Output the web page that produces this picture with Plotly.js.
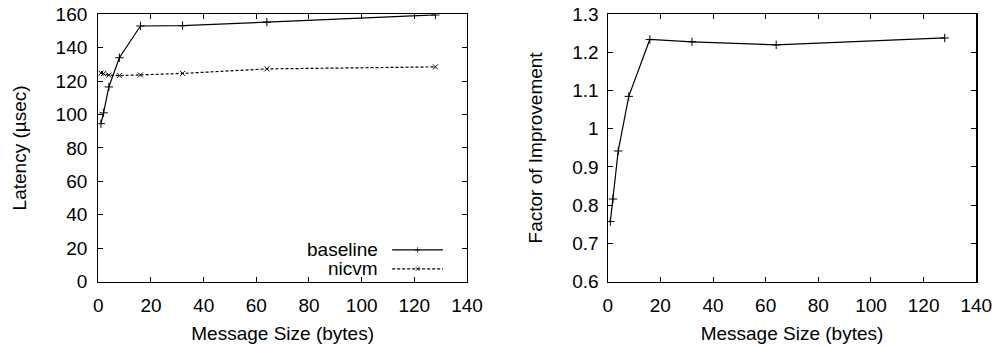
<!DOCTYPE html>
<html>
<head>
<meta charset="utf-8">
<script src="https://cdn.plot.ly/plotly-3.0.1.min.js"></script>
<style>html,body{margin:0;padding:0;background:#fff;}#chart{width:999px;height:347px;}</style>
</head>
<body>
<div id="chart"></div>
<script>
// ---- data ----
const msgSize = [1, 2, 4, 8, 16, 32, 64, 128];
const baseline = [94.5, 101, 116.5, 134, 153, 153.2, 155.3, 159.6];
const nicvm = [124.8, 124.5, 123.6, 123.3, 123.7, 124.6, 127.3, 128.5];
const factor = [0.757, 0.816, 0.942, 1.085, 1.234, 1.228, 1.220, 1.238];
const seriesNames = ['baseline', 'nicvm'];
const xTitle = 'Message Size (bytes)';
const yTitleLeft = 'Latency (µsec)';
const yTitleRight = 'Factor of Improvement';

const FONT = 'Liberation Sans, Arial, Helvetica, sans-serif';
const FS = 19;
const W = 999, H = 347;
const L1 = [98.3 / W, 467 / W];
const L2 = [607.7 / W, 976.3 / W];
const YD = [1 - 281.5 / H, 1 - 14.3 / H];

const lineBase = {color: '#000', width: 1.2};
const lineNic = {color: '#000', width: 1.2, dash: '3px,2px'};

const traces = [
  {x: msgSize, y: baseline, name: seriesNames[0], xaxis: 'x', yaxis: 'y', mode: 'lines+markers',
   line: lineBase, marker: {symbol: 'cross-thin', size: 6, line: {color: '#000', width: 1}}},
  {x: msgSize, y: nicvm, name: seriesNames[1], xaxis: 'x', yaxis: 'y', mode: 'lines+markers',
   line: lineNic, marker: {symbol: 'x-thin', size: 5, line: {color: '#000', width: 1}}},
  {x: msgSize, y: factor, name: 'factor', xaxis: 'x2', yaxis: 'y2', mode: 'lines+markers',
   line: lineBase, marker: {symbol: 'cross-thin', size: 6, line: {color: '#000', width: 1}}},
  // legend samples (on hidden overlay axes)
  {x: [0.797, 0.866, 0.935], y: [0.118, 0.118, 0.118], xaxis: 'x3', yaxis: 'y3', mode: 'lines+markers',
   line: lineBase, marker: {symbol: 'cross-thin', size: [0, 4, 0], line: {color: '#000', width: 1}}, hoverinfo: 'skip'},
  {x: [0.797, 0.866, 0.935], y: [0.047, 0.047, 0.047], xaxis: 'x3', yaxis: 'y3', mode: 'lines+markers',
   line: lineNic, marker: {symbol: 'x-thin', size: [0, 4, 0], line: {color: '#000', width: 1}}, hoverinfo: 'skip'}
];

const axBase = {
  showgrid: false, zeroline: false, showline: true, linecolor: '#000', linewidth: 1.2,
  mirror: 'ticks', ticks: 'inside', ticklen: 5, tickwidth: 1, tickcolor: '#000',
  tickfont: {family: FONT, size: FS, color: '#000'}
};

const layout = {
  width: W, height: H, margin: {l: 0, r: 0, t: 0, b: 0},
  paper_bgcolor: '#fff', plot_bgcolor: 'rgba(0,0,0,0)', showlegend: false,
  font: {family: FONT, color: '#000'},
  xaxis: Object.assign({}, axBase, {domain: L1, anchor: 'y', range: [0, 140], dtick: 20, tick0: 0,
    ticklabelstandoff: 6,
    title: {text: xTitle, font: {family: FONT, size: FS}, standoff: 12}}),
  yaxis: Object.assign({}, axBase, {domain: YD, anchor: 'x', range: [0, 160], dtick: 20, tick0: 0,
    ticklabelstandoff: 6,
    title: {text: yTitleLeft, font: {family: FONT, size: FS}, standoff: 24}}),
  xaxis2: Object.assign({}, axBase, {domain: L2, anchor: 'y2', range: [0, 140], dtick: 20, tick0: 0,
    ticklabelstandoff: 6,
    title: {text: xTitle, font: {family: FONT, size: FS}, standoff: 12}}),
  yaxis2: Object.assign({}, axBase, {domain: YD, anchor: 'x2', range: [0.6, 1.3], dtick: 0.1, tick0: 0.6,
    ticklabelstandoff: 4,
    title: {text: yTitleRight, font: {family: FONT, size: FS}, standoff: 24}}),
  xaxis3: {overlaying: 'x', anchor: 'y3', range: [0, 1], visible: false, fixedrange: true},
  yaxis3: {overlaying: 'y', anchor: 'x3', range: [0, 1], visible: false, fixedrange: true},
  annotations: [
    {text: seriesNames[0], xref: 'x3', yref: 'y3', x: 0.765, y: 0.118, xanchor: 'right', yanchor: 'middle',
     showarrow: false, font: {family: FONT, size: FS, color: '#000'}},
    {text: seriesNames[1], xref: 'x3', yref: 'y3', x: 0.765, y: 0.047, xanchor: 'right', yanchor: 'middle',
     showarrow: false, font: {family: FONT, size: FS, color: '#000'}}
  ]
};

Plotly.newPlot('chart', traces, layout, {staticPlot: true, displayModeBar: false});
</script>
</body>
</html>
